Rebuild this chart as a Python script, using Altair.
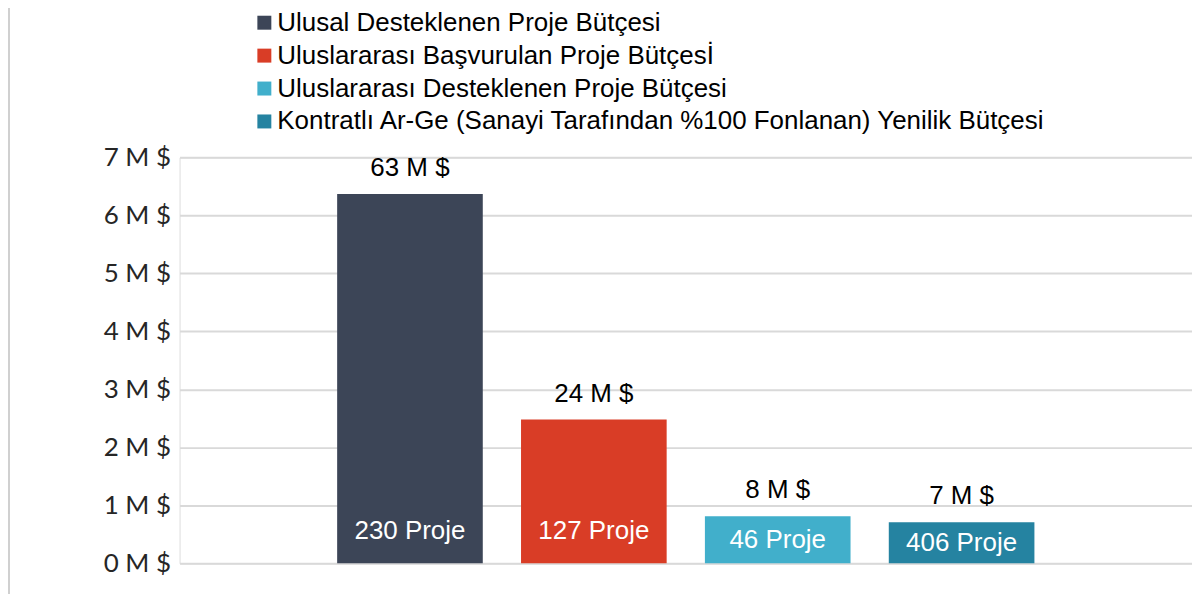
import altair as alt
import pandas as pd

series = [
    "Ulusal Desteklenen Proje Bütçesi",
    "Uluslararası Başvurulan Proje Bütçesİ",
    "Uluslararası Desteklenen Proje Bütçesi",
    "Kontratlı Ar-Ge (Sanayi Tarafından %100 Fonlanan) Yenilik Bütçesi",
]
values = [6.37, 2.48, 0.81, 0.71]
top_labels = ["63 M $", "24 M $", "8 M $", "7 M $"]
inner_labels = ["230 Proje", "127 Proje", "46 Proje", "406 Proje"]
colors = ["#3c4557", "#d93d26", "#41afcb", "#2583a1"]
y_ticks = [0, 1, 2, 3, 4, 5, 6, 7]

df = pd.DataFrame({"series": series, "value": values, "top": top_labels, "inner": inner_labels})

FONT = "Liberation Sans"

x = alt.X("series:N", sort=series,
          scale=alt.Scale(paddingInner=0.208, paddingOuter=0.857),
          axis=None)

base = alt.Chart(df)

bars = base.mark_bar().encode(
    x=x,
    y=alt.Y("value:Q", scale=alt.Scale(domain=[0, 7], nice=False),
            axis=alt.Axis(values=y_ticks, labelExpr="datum.value + ' M $'", title=None,
                          domain=False, ticks=False, grid=True, gridColor="#d9d9d9",
                          gridWidth=2, labelFont="Lato", labelFontSize=26,
                          labelColor="#262626", labelPadding=9)),
    color=alt.Color("series:N", sort=series,
                    scale=alt.Scale(domain=series, range=colors),
                    legend=alt.Legend(title=None, orient="none", legendX=72, legendY=-148,
                                      symbolType="square", symbolSize=196, symbolStrokeWidth=0,
                                      labelFont=FONT, labelFontSize=26, labelColor="#000000",
                                      rowPadding=7, labelLimit=1000, labelOffset=0)),
)

top_text = base.mark_text(font=FONT, fontSize=26, baseline="middle", dy=-26, color="#000000").encode(
    x=x, y="value:Q", text="top:N")

inner_text = base.transform_calculate(
    ipos="min(datum.value / 2, 0.56)"
).mark_text(font=FONT, fontSize=26, baseline="middle", color="#ffffff").encode(
    x=x, y="ipos:Q", text="inner:N")

frame = base.mark_rule(color="#d0d0d0", strokeWidth=2).encode(
    x=alt.value(-171), y=alt.value(-160), y2=alt.value(440))

chart = alt.layer(frame, bars, top_text, inner_text).properties(
    width=1015, height=407,
    autosize=alt.AutoSizeParams(type="none"),
    padding={"left": 172, "top": 149, "right": 0, "bottom": 30},
).configure_view(stroke=None).configure(background="#ffffff")

chart.save("out.html", embed_options={"renderer": "svg", "actions": False})
